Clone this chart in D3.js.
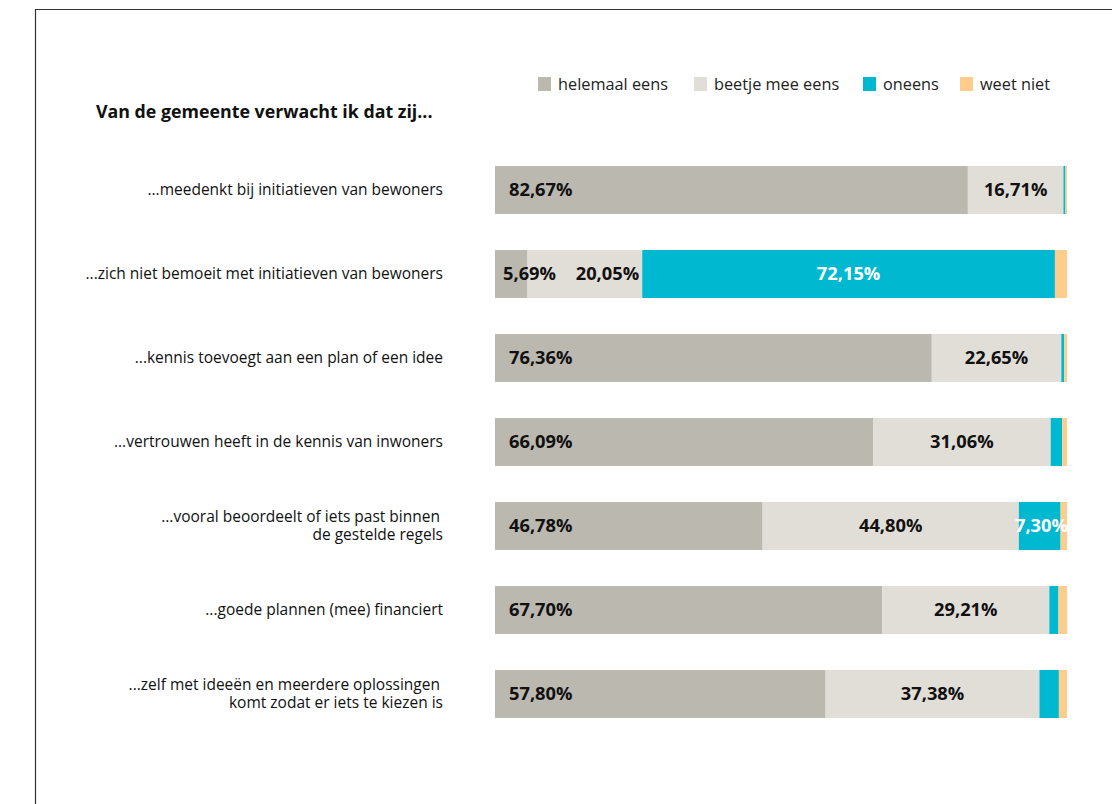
<!DOCTYPE html>
<html>
<head>
<meta charset="utf-8">
<script src="https://cdn.jsdelivr.net/npm/d3@7"></script>
<style>
  body { margin: 0; background: #fff; }
  svg { display: block; font-family: "Open Sans", Lato, sans-serif; }
</style>
</head>
<body>
<svg id="chart" width="1112" height="804"></svg>
<script>
const statements = [
  ["...meedenkt bij initiatieven van bewoners"],
  ["...zich niet bemoeit met initiatieven van bewoners"],
  ["...kennis toevoegt aan een plan of een idee"],
  ["...vertrouwen heeft in de kennis van inwoners"],
  ["...vooral beoordeelt of iets past binnen", "de gestelde regels"],
  ["...goede plannen (mee) financiert"],
  ["...zelf met ideeën en meerdere oplossingen", "komt zodat er iets te kiezen is"],
];
const answers = ["helemaal eens", "beetje mee eens", "oneens", "weet niet"];
const helemaalEens = [82.67, 5.69, 76.36, 66.09, 46.78, 67.70, 57.80];
const beetjeMeeEens = [16.71, 20.05, 22.65, 31.06, 44.80, 29.21, 37.38];
const oneens = [0.35, 72.15, 0.5, 2.0, 7.30, 1.6, 3.4];
const weetNiet = [0.27, 2.11, 0.49, 0.85, 1.12, 1.49, 1.42];
const colors = ["#bbb8b0", "#e1ddd7", "#00b9d1", "#fecc8b"];

const svg = d3.select("#chart");
const nl = d3.formatLocale({ decimal: ",", thousands: ".", grouping: [3], currency: ["€", ""] });
const fmt = (v) => nl.format(".2f")(v) + "%";

// frame
svg.append("path")
  .attr("d", "M35.5,804V9.5H1112")
  .attr("fill", "none")
  .attr("stroke", "#333")
  .attr("stroke-width", 1.2);

svg.append("text")
  .attr("x", 96).attr("y", 118)
  .attr("font-size", 17.8).attr("font-weight", "bold")
  .attr("fill", "#111")
  .text("Van de gemeente verwacht ik dat zij...");

// legend
const legendX = [538, 694, 863, 960];
const legendG = svg.append("g").selectAll("g")
  .data(answers)
  .join("g")
  .attr("transform", (_, i) => `translate(${legendX[i]},77)`);
legendG.append("rect")
  .attr("width", 13).attr("height", 14)
  .attr("fill", (_, i) => colors[i]);
legendG.append("text")
  .attr("x", 20).attr("y", 13)
  .attr("font-size", 16.3).attr("fill", "#222")
  .text((d) => d);

// data table
const rows = statements.map((s, i) => ({
  label: s,
  values: [helemaalEens[i], beetjeMeeEens[i], oneens[i], weetNiet[i]],
}));

const x = d3.scaleLinear().domain([0, 100]).range([495, 1067]);
const y = d3.scaleBand()
  .domain(d3.range(rows.length))
  .range([148, 736])
  .paddingInner(0.4286)
  .paddingOuter(0.2143);

const rowG = svg.append("g").selectAll("g")
  .data(rows)
  .join("g")
  .attr("transform", (_, i) => `translate(0,${y(i)})`);

const bh = y.bandwidth();

rowG.each(function (row) {
  const g = d3.select(this);
  let acc = 0;
  const segs = row.values.map((v, k) => {
    const s = { k, v, x0: x(acc), x1: x(acc + v) };
    acc += v;
    return s;
  });
  g.selectAll("rect")
    .data(segs)
    .join("rect")
    .attr("x", (d) => d.x0)
    .attr("y", 0)
    .attr("width", (d) => d.x1 - d.x0)
    .attr("height", bh)
    .attr("fill", (d) => colors[d.k]);

  // labels
  let prevEnd = -Infinity;
  segs.forEach((d) => {
    if (d.k === 3) return;
    if (d.k === 2 && d.v < 5) return;
    const t = g.append("text")
      .attr("y", bh / 2 + 6.5)
      .attr("font-size", 18.3).attr("font-weight", "bold")
      .attr("fill", d.k === 2 ? "#fff" : "#111")
      .text(fmt(d.v));
    const w = t.node().getComputedTextLength();
    let left;
    if (d.k === 0) left = w > d.x1 - d.x0 ? d.x0 + 8 : d.x0 + 14;
    else {
      left = (d.x0 + d.x1) / 2 - w / 2;
      if (left < prevEnd + 10) left = d.x1 - 3 - w;
      if (d.k === 2 && left + w > d.x1) left = Math.min(left + 8, 1068 - w);
    }
    t.attr("x", left);
    prevEnd = left + w;
  });

  // category label
  const lines = row.label;
  const t = g.append("text")
    .attr("text-anchor", "end")
    .attr("font-size", 15.5)
    .attr("fill", "#111");
  lines.forEach((ln, j) => {
    t.append("tspan")
      .attr("x", lines.length > 1 && j === 0 ? 440 : 443)
      .attr("y", bh / 2 + 5 + (j - (lines.length - 1) / 2) * 18)
      .text(ln);
  });
});
</script>
</body>
</html>
